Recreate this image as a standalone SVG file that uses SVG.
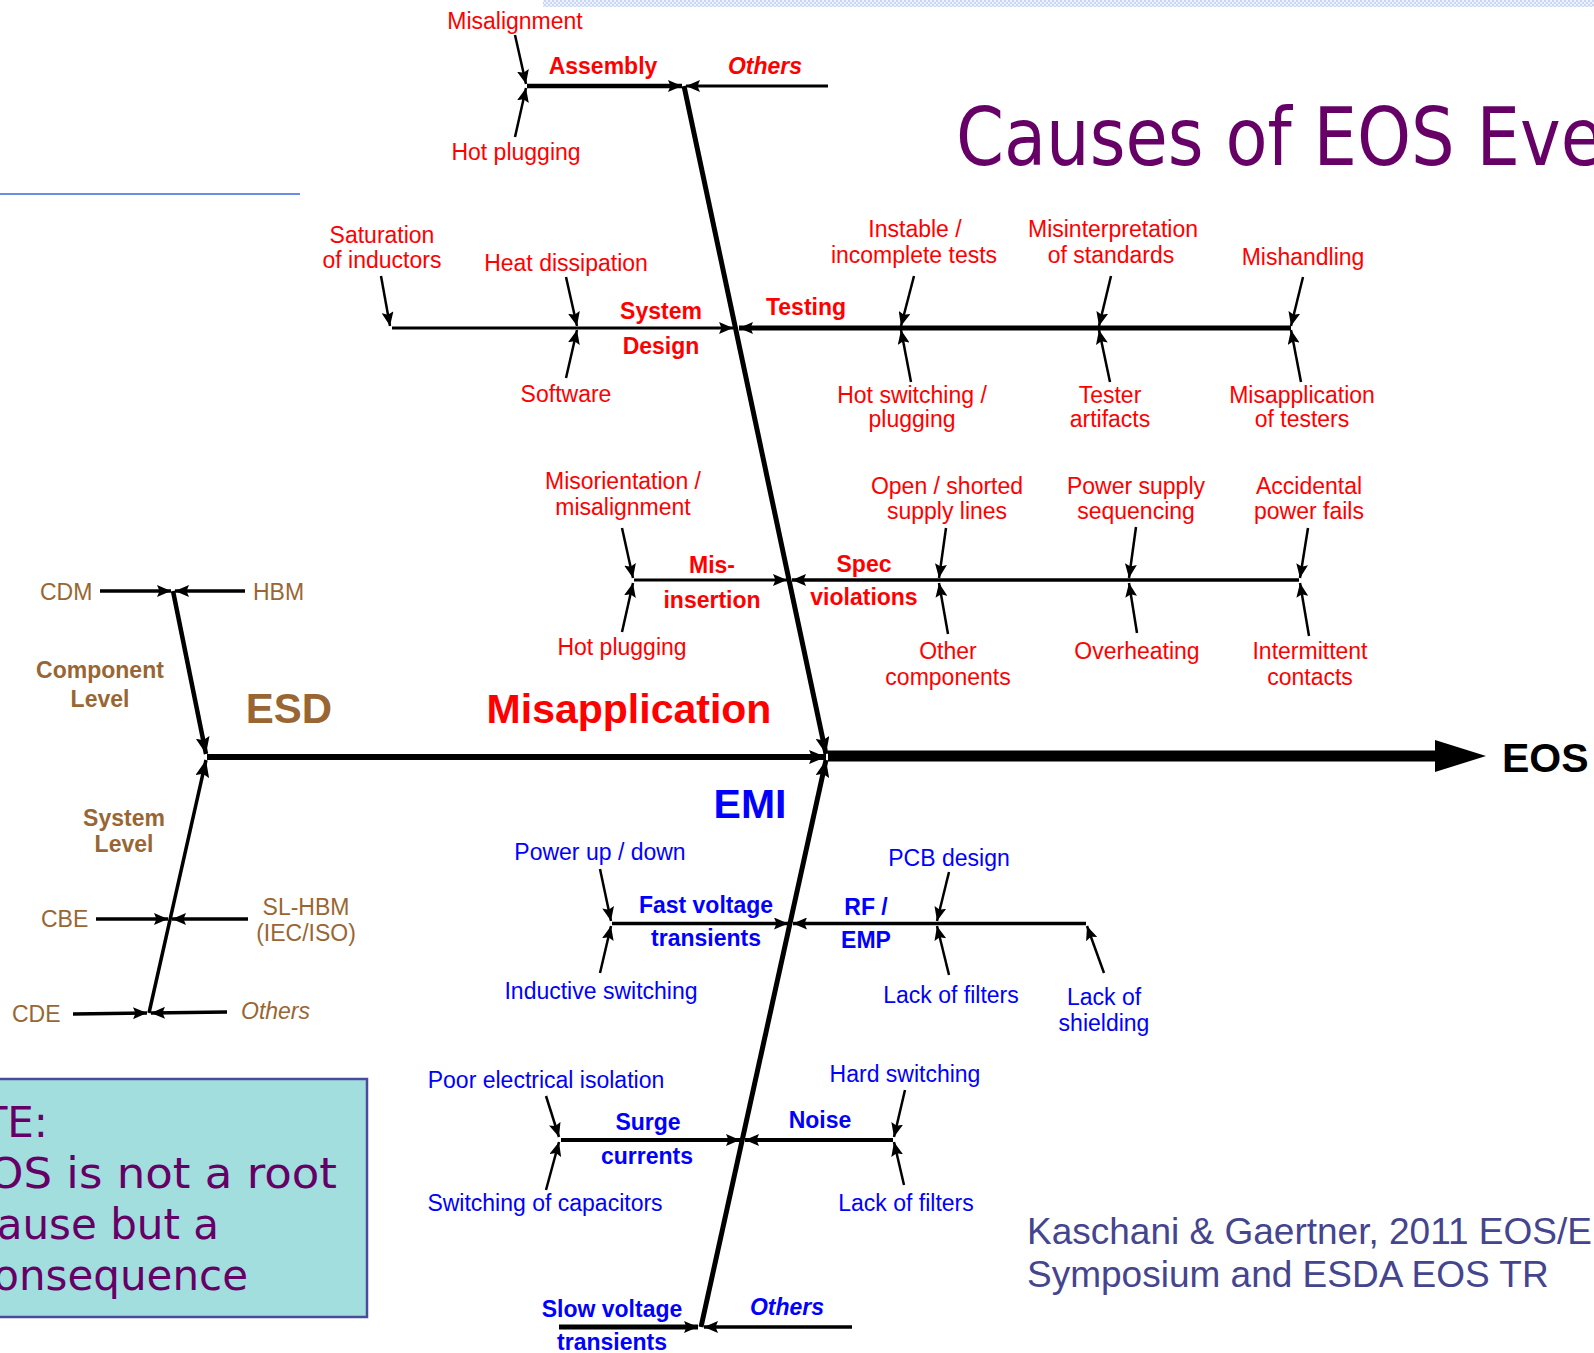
<svg xmlns="http://www.w3.org/2000/svg" width="1594" height="1353" viewBox="0 0 1594 1353">
<style>
text{font-family:"Liberation Sans",Arial,sans-serif;font-size:23px}
.c{text-anchor:middle}
.bd{font-weight:bold}
.it{font-style:italic}
.big{font-size:41px;font-weight:bold}
.r{fill:#ff0000}
.u{fill:#0000ff}
.w{fill:#996633}
.k{fill:#000}
.sm{stroke:#000;stroke-width:2.5;fill:none;marker-end:url(#a)}
.bl{stroke:#000;stroke-width:3.5;fill:none;marker-end:url(#a)}
.dg{stroke:#000;stroke-width:5;fill:none;marker-end:url(#b)}
.note{font-family:"DejaVu Sans",Verdana,sans-serif;font-size:42px;fill:#660066;text-anchor:end}
</style>
<defs>
<marker id="a" viewBox="0 0 14 12" refX="14" refY="6" markerWidth="14" markerHeight="12" markerUnits="userSpaceOnUse" orient="auto"><path d="M0,0 L14,6 L0,12 L2.5,6 z" fill="#000"/></marker>
<marker id="b" viewBox="0 0 17 14" refX="17" refY="7" markerWidth="17" markerHeight="14" markerUnits="userSpaceOnUse" orient="auto"><path d="M0,0 L17,7 L0,14 L3,7 z" fill="#000"/></marker>
<pattern id="chk" width="4" height="4" patternUnits="userSpaceOnUse"><rect width="4" height="4" fill="#eef2fd"/><rect width="2" height="2" fill="#c9d6f6"/><rect x="2" y="2" width="2" height="2" fill="#c9d6f6"/></pattern>
</defs>
<rect width="1594" height="1353" fill="#fff"/>
<g id="decor">
<rect x="543" y="0" width="1051" height="7" fill="url(#chk)"/>
<line x1="0" y1="194" x2="300" y2="194" stroke="#6b8de8" stroke-width="2"/>
</g>
<g id="title"><text x="956" y="165" style="font-family:'DejaVu Sans',Verdana,sans-serif;font-size:80px" fill="#660066" textLength="647" lengthAdjust="spacingAndGlyphs">Causes of EOS Eve</text></g>

<g id="connectors">
<line x1="828" y1="756" x2="1437" y2="756" stroke="#000" stroke-width="11"/>
<polygon points="1435,740 1486,756 1435,772" fill="#000"/>
<line class="dg" x1="207" y1="757" x2="826" y2="757" style="stroke-width:6"/>
<line class="dg" x1="684" y1="86" x2="826" y2="754"/>
<line class="dg" x1="701" y1="1327" x2="826" y2="760"/>
<line class="dg" x1="173" y1="591" x2="206" y2="754" style="stroke-width:4.5"/>
<line class="dg" x1="149" y1="1013" x2="206" y2="760" style="stroke-width:3.5"/>
<line class="bl" x1="100" y1="591" x2="171" y2="591"/>
<line class="bl" x1="245" y1="591" x2="175" y2="591"/>
<line class="bl" x1="96" y1="919" x2="168" y2="919"/>
<line class="bl" x1="248" y1="919" x2="172" y2="919"/>
<line class="bl" x1="73" y1="1014" x2="147" y2="1013"/>
<line class="bl" x1="227" y1="1012" x2="151" y2="1013"/>
<line class="bl" x1="527" y1="86" x2="682" y2="86" style="stroke-width:4.5"/>
<line class="bl" x1="828" y1="86" x2="686" y2="86" style="stroke-width:3"/>
<line class="sm" x1="515" y1="35" x2="526" y2="84"/>
<line class="sm" x1="515" y1="137" x2="526" y2="88"/>
<line class="bl" x1="392" y1="328" x2="733" y2="328" style="stroke-width:3"/>
<line class="sm" x1="381" y1="276" x2="390" y2="326"/>
<line class="sm" x1="566" y1="277" x2="577" y2="326"/>
<line class="sm" x1="566" y1="378" x2="577" y2="330"/>
<line class="bl" x1="1291" y1="328" x2="739" y2="328" style="stroke-width:5"/>
<line class="sm" x1="914" y1="276" x2="901" y2="326"/>
<line class="sm" x1="911" y1="382" x2="901" y2="330"/>
<line class="sm" x1="1111" y1="276" x2="1099" y2="326"/>
<line class="sm" x1="1110" y1="382" x2="1099" y2="330"/>
<line class="sm" x1="1303" y1="277" x2="1291" y2="326"/>
<line class="sm" x1="1301" y1="382" x2="1291" y2="330"/>
<line class="bl" x1="634" y1="580" x2="787" y2="580" style="stroke-width:3"/>
<line class="sm" x1="622" y1="528" x2="633" y2="578"/>
<line class="sm" x1="622" y1="632" x2="633" y2="583"/>
<line class="bl" x1="1299" y1="580" x2="792" y2="580" style="stroke-width:3.5"/>
<line class="sm" x1="946" y1="528" x2="939" y2="578"/>
<line class="sm" x1="948" y1="634" x2="939" y2="583"/>
<line class="sm" x1="1136" y1="527" x2="1129" y2="578"/>
<line class="sm" x1="1137" y1="633" x2="1129" y2="583"/>
<line class="sm" x1="1308" y1="528" x2="1300" y2="578"/>
<line class="sm" x1="1309" y1="636" x2="1300" y2="583"/>
<line class="bl" x1="612" y1="923.5" x2="788" y2="923.5"/>
<line class="sm" x1="600" y1="869" x2="611" y2="921"/>
<line class="sm" x1="600" y1="973" x2="611" y2="926"/>
<line class="bl" x1="1086" y1="923.5" x2="793" y2="923.5"/>
<line class="sm" x1="949" y1="872" x2="937" y2="921"/>
<line class="sm" x1="949" y1="975" x2="937" y2="926"/>
<line class="sm" x1="1104" y1="973" x2="1087" y2="926"/>
<line class="bl" x1="561" y1="1140" x2="740" y2="1140" style="stroke-width:4"/>
<line class="sm" x1="546" y1="1096" x2="559" y2="1137"/>
<line class="sm" x1="546" y1="1190" x2="559" y2="1142"/>
<line class="bl" x1="893" y1="1140" x2="745" y2="1140" style="stroke-width:4"/>
<line class="sm" x1="905" y1="1090" x2="894" y2="1137"/>
<line class="sm" x1="904" y1="1185" x2="894" y2="1142"/>
<line class="bl" x1="559" y1="1327" x2="698" y2="1327" style="stroke-width:5"/>
<line class="bl" x1="852" y1="1327" x2="704" y2="1327" style="stroke-width:3.5"/>
</g>

<g id="eos"><text class="big k" x="1502" y="772">EOS</text></g>
<g id="esd"><text class="big w c" x="289" y="723" style="font-size:42px">ESD</text></g>
<g id="misapplication"><text class="big r c" x="629" y="723">Misapplication</text></g>
<g id="emi"><text class="big u c" x="750" y="818">EMI</text></g>

<g id="esd-cdm"><text class="w" x="40" y="600">CDM</text></g>
<g id="esd-hbm"><text class="w" x="253" y="600">HBM</text></g>
<g id="esd-component"><text class="w c bd" x="100" y="678">Component</text><text class="w c bd" x="100" y="707">Level</text></g>
<g id="esd-system"><text class="w c bd" x="124" y="826">System</text><text class="w c bd" x="124" y="852">Level</text></g>
<g id="esd-cbe"><text class="w" x="41" y="927">CBE</text></g>
<g id="esd-slhbm"><text class="w c" x="306" y="915">SL-HBM</text><text class="w c" x="306" y="941">(IEC/ISO)</text></g>
<g id="esd-cde"><text class="w" x="12" y="1022">CDE</text></g>
<g id="esd-others"><text class="w it" x="241" y="1019">Others</text></g>

<g id="assembly"><text class="r c bd" x="603" y="74">Assembly</text></g>
<g id="asm-others"><text class="r c bd it" x="765" y="74">Others</text></g>
<g id="asm-misalignment"><text class="r c" x="515" y="29">Misalignment</text></g>
<g id="asm-hotplugging"><text class="r c" x="516" y="160">Hot plugging</text></g>

<g id="system-design"><text class="r c bd" x="661" y="319">System</text><text class="r c bd" x="661" y="354">Design</text></g>
<g id="sd-saturation"><text class="r c" x="382" y="243">Saturation</text><text class="r c" x="382" y="268">of inductors</text></g>
<g id="sd-heat"><text class="r c" x="566" y="271">Heat dissipation</text></g>
<g id="sd-software"><text class="r c" x="566" y="402">Software</text></g>

<g id="testing"><text class="r c bd" x="806" y="315">Testing</text></g>
<g id="t-instable"><text class="r c" x="915" y="237">Instable /</text><text class="r c" x="914" y="263">incomplete tests</text></g>
<g id="t-hotswitching"><text class="r c" x="912" y="403">Hot switching /</text><text class="r c" x="912" y="427">plugging</text></g>
<g id="t-misinterpretation"><text class="r c" x="1113" y="237">Misinterpretation</text><text class="r c" x="1111" y="263">of standards</text></g>
<g id="t-tester"><text class="r c" x="1110" y="403">Tester</text><text class="r c" x="1110" y="427">artifacts</text></g>
<g id="t-mishandling"><text class="r c" x="1303" y="265">Mishandling</text></g>
<g id="t-misapplication"><text class="r c" x="1302" y="403">Misapplication</text><text class="r c" x="1302" y="427">of testers</text></g>

<g id="mis-insertion"><text class="r c bd" x="712" y="573">Mis-</text><text class="r c bd" x="712" y="608">insertion</text></g>
<g id="mi-misorientation"><text class="r c" x="623" y="489">Misorientation /</text><text class="r c" x="623" y="515">misalignment</text></g>
<g id="mi-hotplugging"><text class="r c" x="622" y="655">Hot plugging</text></g>

<g id="spec-violations"><text class="r c bd" x="864" y="572">Spec</text><text class="r c bd" x="864" y="605">violations</text></g>
<g id="sv-open"><text class="r c" x="947" y="494">Open / shorted</text><text class="r c" x="947" y="519">supply lines</text></g>
<g id="sv-other"><text class="r c" x="948" y="659">Other</text><text class="r c" x="948" y="685">components</text></g>
<g id="sv-power"><text class="r c" x="1136" y="494">Power supply</text><text class="r c" x="1136" y="519">sequencing</text></g>
<g id="sv-overheating"><text class="r c" x="1137" y="659">Overheating</text></g>
<g id="sv-accidental"><text class="r c" x="1309" y="494">Accidental</text><text class="r c" x="1309" y="519">power fails</text></g>
<g id="sv-intermittent"><text class="r c" x="1310" y="659">Intermittent</text><text class="r c" x="1310" y="685">contacts</text></g>

<g id="fast-voltage"><text class="u c bd" x="706" y="913">Fast voltage</text><text class="u c bd" x="706" y="946">transients</text></g>
<g id="fv-power"><text class="u c" x="600" y="860">Power up / down</text></g>
<g id="fv-inductive"><text class="u c" x="601" y="999">Inductive switching</text></g>
<g id="rf-emp"><text class="u c bd" x="866" y="915">RF /</text><text class="u c bd" x="866" y="948">EMP</text></g>
<g id="rf-pcb"><text class="u c" x="949" y="866">PCB design</text></g>
<g id="rf-filters"><text class="u c" x="951" y="1003">Lack of filters</text></g>
<g id="rf-shielding"><text class="u c" x="1104" y="1005">Lack of</text><text class="u c" x="1104" y="1031">shielding</text></g>

<g id="surge"><text class="u c bd" x="648" y="1130">Surge</text><text class="u c bd" x="647" y="1164">currents</text></g>
<g id="sc-poor"><text class="u c" x="546" y="1088">Poor electrical isolation</text></g>
<g id="sc-switching"><text class="u c" x="545" y="1211">Switching of capacitors</text></g>
<g id="noise"><text class="u c bd" x="820" y="1128">Noise</text></g>
<g id="n-hard"><text class="u c" x="905" y="1082">Hard switching</text></g>
<g id="n-filters"><text class="u c" x="906" y="1211">Lack of filters</text></g>

<g id="slow-voltage"><text class="u c bd" x="612" y="1317">Slow voltage</text><text class="u c bd" x="612" y="1350">transients</text></g>
<g id="emi-others"><text class="u c bd it" x="787" y="1315">Others</text></g>

<g id="note">
<rect x="-5" y="1079" width="372" height="238" fill="#a2dede" stroke="#4b4b9b" stroke-width="2.5"/>
<text class="note" x="48" y="1137">TE:</text>
<text class="note" x="-12" y="1188" style="text-anchor:start" textLength="349" lengthAdjust="spacingAndGlyphs">OS is not a root</text>
<text class="note" x="219" y="1239">ause but a</text>
<text class="note" x="248" y="1290">onsequence</text>
</g>
<g id="citation">
<text x="1027" y="1244" style="font-size:37px" fill="#45458f">Kaschani &amp; Gaertner, 2011 EOS/E</text>
<text x="1027" y="1287" style="font-size:37px" fill="#45458f">Symposium and ESDA EOS TR</text>
</g>
</svg>
